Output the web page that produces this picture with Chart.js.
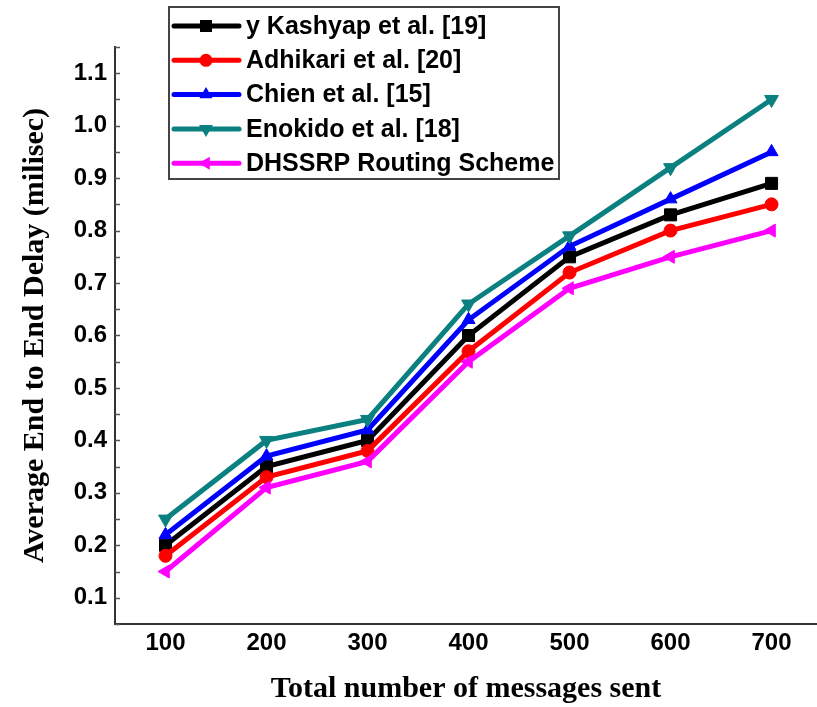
<!DOCTYPE html>
<html><head><meta charset="utf-8">
<script src="https://cdn.jsdelivr.net/npm/chart.js@4.4.1/dist/chart.umd.min.js"></script>
<style>html,body{margin:0;padding:0;background:#fff}canvas{display:block}</style>
</head><body>
<canvas id="c" width="817" height="707"></canvas>
<script>
// ---- data ----
const messagesSent = [100, 200, 300, 400, 500, 600, 700];
const kashyap  = [0.20, 0.35, 0.40, 0.60, 0.75, 0.83, 0.89];
const adhikari = [0.18, 0.33, 0.38, 0.57, 0.72, 0.80, 0.85];
const chien    = [0.22, 0.37, 0.42, 0.63, 0.77, 0.86, 0.95];
const enokido  = [0.25, 0.40, 0.44, 0.66, 0.79, 0.92, 1.05];
const dhssrp   = [0.15, 0.31, 0.36, 0.55, 0.69, 0.75, 0.80];
const seriesLabels = ['y Kashyap et al. [19]', 'Adhikari et al. [20]', 'Chien et al. [15]', 'Enokido et al. [18]', 'DHSSRP Routing Scheme'];
const xTickValues = [100, 200, 300, 400, 500, 600, 700];
const yTickValues = [0.1, 0.2, 0.3, 0.4, 0.5, 0.6, 0.7, 0.8, 0.9, 1.0, 1.1];
const xTitle = 'Total number of messages sent';
const yTitle = 'Average End to End Delay (milisec)';

// ---- styles ----
const seriesValues = [kashyap, adhikari, chien, enokido, dhssrp];
const colors = ['#000000', '#ff0000', '#0000ff', '#0b8080', '#ff00ff'];
const pStyles = ['rect', 'circle', 'triangle', 'triangle', 'triangle'];
const pRot = [0, 0, 0, 180, 270];
const pRad = [8.5, 6.5, 7.5, 8, 7.5];

const datasets = seriesValues.map((vals, i) => ({
  label: seriesLabels[i],
  data: messagesSent.map((x, j) => ({x: x, y: vals[j]})),
  borderColor: colors[i],
  backgroundColor: colors[i],
  borderWidth: 5,
  pointStyle: pStyles[i],
  rotation: pRot[i],
  pointRadius: pRad[i],
  pointBorderWidth: 1,
  pointBackgroundColor: colors[i],
  pointBorderColor: colors[i],
  tension: 0,
  order: 5 - i
}));

function drawMarker(ctx, style, rotDeg, r, x, y, color) {
  ctx.save();
  ctx.fillStyle = color;
  ctx.beginPath();
  if (style === 'rect') {
    const s = Math.SQRT1_2 * r;
    ctx.rect(x - s, y - s, 2 * s, 2 * s);
  } else if (style === 'circle') {
    ctx.arc(x, y, r, 0, Math.PI * 2);
  } else {
    let rad = rotDeg * Math.PI / 180;
    ctx.moveTo(x + Math.sin(rad) * r, y - Math.cos(rad) * r);
    rad += 2 * Math.PI / 3;
    ctx.lineTo(x + Math.sin(rad) * r, y - Math.cos(rad) * r);
    rad += 2 * Math.PI / 3;
    ctx.lineTo(x + Math.sin(rad) * r, y - Math.cos(rad) * r);
    ctx.closePath();
  }
  ctx.fill();
  ctx.restore();
}

const boxLegend = {
  id: 'boxLegend',
  afterDraw(chart) {
    const ctx = chart.ctx;
    const a = chart.chartArea;
    const bx = a.left + 54, by = a.top - 40, bw = 390, bh = 172;
    ctx.save();
    ctx.fillStyle = '#ffffff';
    ctx.fillRect(bx, by, bw, bh);
    ctx.strokeStyle = '#444';
    ctx.lineWidth = 2;
    ctx.strokeRect(bx, by, bw, bh);
    chart.data.datasets.forEach((ds, i) => {
      const y = by + 19 + i * 34.3;
      ctx.strokeStyle = ds.borderColor;
      ctx.lineWidth = 5;
      ctx.lineCap = 'round';
      ctx.beginPath();
      ctx.moveTo(bx + 5, y);
      ctx.lineTo(bx + 70, y);
      ctx.stroke();
      drawMarker(ctx, ds.pointStyle, ds.rotation, ds.pointRadius, bx + 37, y, ds.borderColor);
      ctx.fillStyle = '#000';
      ctx.font = 'bold 25px "Liberation Sans", Arial, sans-serif';
      ctx.textBaseline = 'middle';
      ctx.textAlign = 'left';
      ctx.fillText(ds.label, bx + 77, y + 1);
    });
    ctx.restore();
  }
};

const innerTicks = {
  id: 'innerTicks',
  afterDraw(chart) {
    const ys = chart.scales.y;
    const ctx = chart.ctx;
    ctx.save();
    ctx.strokeStyle = '#555';
    ctx.lineWidth = 1.5;
    const step = 0.05;
    for (let k = Math.ceil(ys.min / step - 1e-9); k * step <= ys.max + 1e-9; k++) {
      const py = Math.round(ys.getPixelForValue(k * step)) + 0.5;
      ctx.beginPath();
      ctx.moveTo(ys.right, py);
      ctx.lineTo(ys.right + 5, py);
      ctx.stroke();
    }
    ctx.restore();
  }
};

new Chart(document.getElementById('c'), {
  type: 'line',
  data: {datasets: datasets},
  options: {
    responsive: false,
    animation: false,
    devicePixelRatio: 1,
    layout: {autoPadding: false, padding: {top: 47, right: 0, bottom: 0, left: 0}},
    plugins: {legend: {display: false}, tooltip: {enabled: false}},
    scales: {
      x: {
        type: 'linear',
        min: 50,
        max: 745,
        afterFit(s) { s.height = 83; s.paddingLeft = 0; s.paddingRight = 0; },
        afterBuildTicks(s) { s.ticks = xTickValues.map(v => ({value: v})); },
        grid: {display: true, drawOnChartArea: false, drawTicks: false},
        border: {display: true, color: '#333', width: 2},
        ticks: {
          color: '#000',
          padding: 5,
          maxRotation: 0,
          autoSkip: false,
          font: {family: '"Liberation Sans", Arial, sans-serif', size: 24, weight: 'bold'},
          callback: v => String(v)
        },
        title: {
          display: true,
          text: xTitle,
          color: '#000',
          padding: {top: 0, bottom: 0},
          font: {family: '"Liberation Serif", "Times New Roman", serif', size: 30, weight: 'bold'}
        }
      },
      y: {
        type: 'linear',
        min: 0.05,
        max: 1.15,
        afterFit(s) { s.width = 115; s.paddingTop = 0; s.paddingBottom = 0; },
        afterBuildTicks(s) { s.ticks = yTickValues.map(v => ({value: v})); },
        grid: {display: true, drawOnChartArea: false, drawTicks: false},
        border: {display: true, color: '#333', width: 2},
        ticks: {
          color: '#000',
          padding: 8,
          autoSkip: false,
          font: {family: '"Liberation Sans", Arial, sans-serif', size: 24, weight: 'bold'},
          callback: v => Number(v).toFixed(1)
        },
        title: {
          display: true,
          text: yTitle,
          color: '#000',
          padding: {top: 17, bottom: 0},
          font: {family: '"Liberation Serif", "Times New Roman", serif', size: 30, weight: 'bold'}
        }
      }
    }
  },
  plugins: [innerTicks, boxLegend]
});
</script>
</body></html>
